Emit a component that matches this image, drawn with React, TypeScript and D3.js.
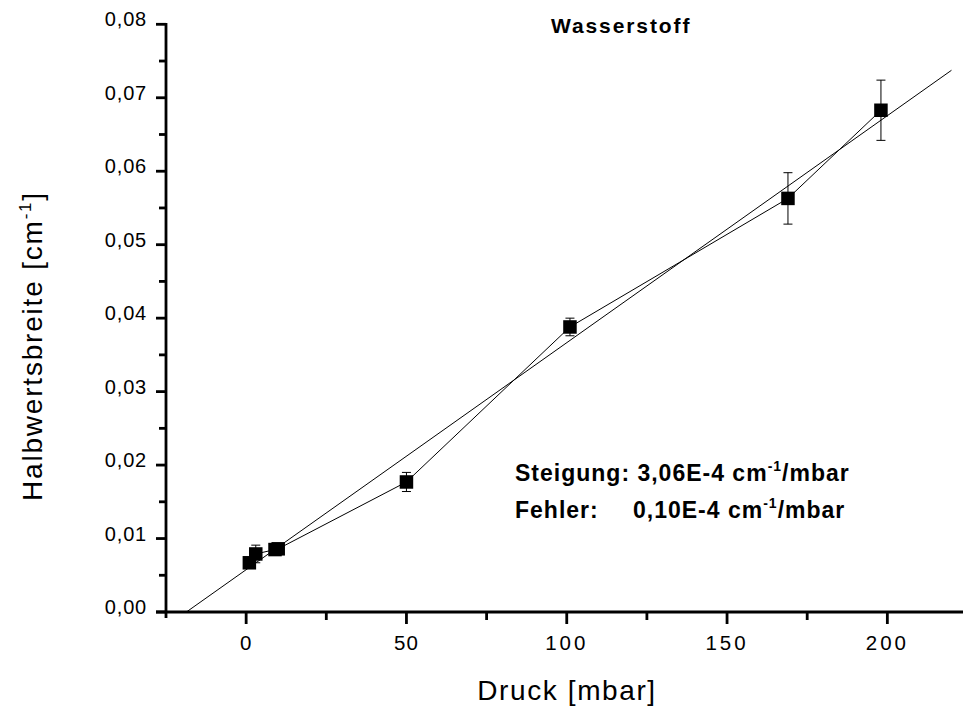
import React, { useEffect, useRef } from 'react';
import * as d3 from 'd3';

// measured points (Druck in mbar, Halbwertsbreite in cm^-1)
const pressure = [1, 3, 9, 10, 50, 101, 169, 198];
const halfWidth = [0.0067, 0.0079, 0.0085, 0.0086, 0.0177, 0.0388, 0.0563, 0.0683];
const halfWidthErr = [0.0004, 0.0012, 0.0004, 0.0004, 0.0013, 0.0012, 0.0035, 0.0041];

// linear fit as drawn
const fitSlope = 3.09e-4;
const fitIntercept = 0.00576;
const fitRange = [-18.6, 220];

const xMajor = [0, 50, 100, 150, 200];
const xMinor = [25, 75, 125, 175];
const yMajor = [0, 0.01, 0.02, 0.03, 0.04, 0.05, 0.06, 0.07, 0.08];
const yMinor = [0.005, 0.015, 0.025, 0.035, 0.045, 0.055, 0.065, 0.075];

const W = 963;
const H = 714;
const FONT = '"Liberation Sans", Arial, Helvetica, sans-serif';

export default function App() {
  const ref = useRef<SVGSVGElement | null>(null);

  useEffect(() => {
    if (!ref.current) return;
    const svg = d3.select(ref.current);
    svg.selectAll('*').remove();
    svg.style('font-family', FONT);

    const x = d3.scaleLinear().domain([-25, 225]).range([166, 967.5]);
    const y = d3.scaleLinear().domain([0, 0.08]).range([612, 24.3]);
    const fmt = (v: number) => d3.format('.2f')(v).replace('.', ',');

    const axes = svg.append('g').attr('stroke', '#000').attr('stroke-width', 2.8);
    // y axis line (runs a little below the x axis)
    axes.append('line').attr('x1', x(-25)).attr('x2', x(-25)).attr('y1', y(0.08) - 1.4).attr('y2', y(0) + 6);
    axes.append('line').attr('x1', x(-25) - 10).attr('x2', W).attr('y1', y(0)).attr('y2', y(0));

    axes.selectAll('line.ymaj').data(yMajor).enter().append('line')
      .attr('class', 'ymaj')
      .attr('x1', x(-25) - 10).attr('x2', x(-25))
      .attr('y1', d => y(d)).attr('y2', d => y(d));
    axes.selectAll('line.ymin').data(yMinor).enter().append('line')
      .attr('class', 'ymin')
      .attr('x1', x(-25) - 7).attr('x2', x(-25))
      .attr('y1', d => y(d)).attr('y2', d => y(d));
    axes.selectAll('line.xmaj').data(xMajor).enter().append('line')
      .attr('class', 'xmaj')
      .attr('x1', d => x(d)).attr('x2', d => x(d))
      .attr('y1', y(0)).attr('y2', y(0) + 12);
    axes.selectAll('line.xmin').data(xMinor).enter().append('line')
      .attr('class', 'xmin')
      .attr('x1', d => x(d)).attr('x2', d => x(d))
      .attr('y1', y(0)).attr('y2', y(0) + 8);

    svg.append('g').selectAll('text').data(yMajor).enter().append('text')
      .attr('x', 147).attr('y', d => y(d)).attr('dy', '0.1em')
      .attr('text-anchor', 'end')
      .style('font-size', '20px').style('letter-spacing', '0.8px')
      .text(d => fmt(d));

    svg.append('g').selectAll('text').data(xMajor).enter().append('text')
      .attr('x', d => x(d)).attr('y', 650)
      .attr('text-anchor', 'middle')
      .style('font-size', '20.5px')
      .style('letter-spacing', d => (d >= 100 ? '3px' : '1px'))
      .text(d => String(d));

    // axis titles
    svg.append('text')
      .attr('x', 567).attr('y', 700).attr('text-anchor', 'middle')
      .style('font-size', '28px').style('letter-spacing', '1.6px')
      .text('Druck [mbar]');

    const yt = svg.append('text')
      .attr('transform', 'translate(42,346) rotate(-90)')
      .attr('text-anchor', 'middle')
      .style('font-size', '28px').style('letter-spacing', '1.8px');
    yt.append('tspan').text('Halbwertsbreite [cm');
    yt.append('tspan').attr('dy', -11).style('font-size', '17px').text('-1');
    yt.append('tspan').attr('dy', 11).text(']');

    svg.append('text')
      .attr('x', 551).attr('y', 33)
      .style('font-size', '21px').style('font-weight', 'bold').style('letter-spacing', '1.9px')
      .text('Wasserstoff');

    // fit line
    const line = d3.line<[number, number]>().x(d => x(d[0])).y(d => y(d[1]));
    svg.append('path')
      .attr('d', line(fitRange.map(p => [p, fitIntercept + fitSlope * p] as [number, number])))
      .attr('fill', 'none').attr('stroke', '#000').attr('stroke-width', 1);

    const pts = pressure.map((p, i) => [p, halfWidth[i]] as [number, number]);
    svg.append('path')
      .attr('d', line(pts))
      .attr('fill', 'none').attr('stroke', '#000').attr('stroke-width', 1);

    // error bars
    const eb = svg.append('g').attr('stroke', '#000').attr('stroke-width', 1);
    pressure.forEach((p, i) => {
      const cx = x(p);
      const top = y(halfWidth[i] + halfWidthErr[i]);
      const bot = y(halfWidth[i] - halfWidthErr[i]);
      eb.append('line').attr('x1', cx).attr('x2', cx).attr('y1', top).attr('y2', bot);
      eb.append('line').attr('x1', cx - 4.5).attr('x2', cx + 4.5).attr('y1', top).attr('y2', top);
      eb.append('line').attr('x1', cx - 4.5).attr('x2', cx + 4.5).attr('y1', bot).attr('y2', bot);
    });

    const s = 13.5;
    svg.append('g').selectAll('rect').data(pts).enter().append('rect')
      .attr('x', d => x(d[0]) - s / 2).attr('y', d => y(d[1]) - s / 2)
      .attr('width', s).attr('height', s).attr('fill', '#000');

    // annotation
    const ann = svg.append('g').style('font-size', '23px').style('font-weight', 'bold').style('letter-spacing', '1px');
    const a1 = ann.append('text').attr('x', 515).attr('y', 481);
    a1.append('tspan').text('Steigung: 3,06E-4 cm');
    a1.append('tspan').attr('dy', -10).style('font-size', '14px').text('-1');
    a1.append('tspan').attr('dy', 10).text('/mbar');
    ann.append('text').attr('x', 515).attr('y', 518).text('Fehler:');
    const a2 = ann.append('text').attr('x', 633).attr('y', 518);
    a2.append('tspan').text('0,10E-4 cm');
    a2.append('tspan').attr('dy', -10).style('font-size', '14px').text('-1');
    a2.append('tspan').attr('dy', 10).text('/mbar');
  }, []);

  return (
    <svg ref={ref} width={W} height={H} style={{ position: 'absolute', left: 0, top: 0, background: '#fff' }} />
  );
}
